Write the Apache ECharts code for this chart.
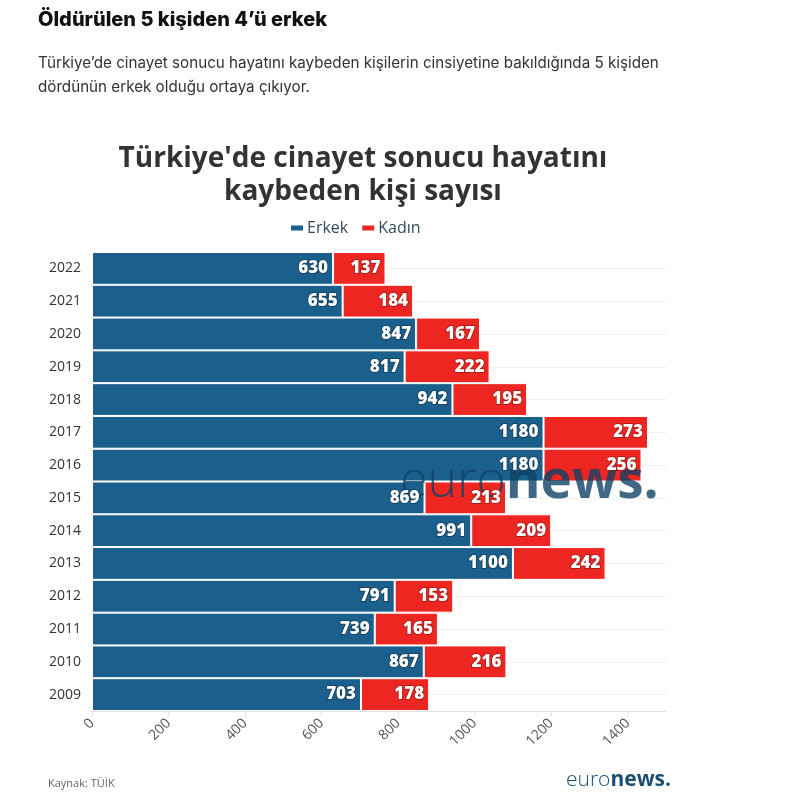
<!DOCTYPE html>
<html><head><meta charset="utf-8">
<script src="https://cdn.jsdelivr.net/npm/echarts@6/dist/echarts.min.js"></script>
<style>html,body{margin:0;padding:0;background:#fff}#c{width:810px;height:809px}</style>
</head><body><div id="c"></div>
<script>
const years = ['2009','2010','2011','2012','2013','2014','2015','2016','2017','2018','2019','2020','2021','2022'];
const erkek = [703, 867, 739, 791, 1100, 991, 869, 1180, 1180, 942, 817, 847, 655, 630];
const kadin = [178, 216, 165, 153, 242, 209, 213, 256, 273, 195, 222, 167, 184, 137];
const xTicks = {min: 0, max: 1500, interval: 200};

const chart = echarts.init(document.getElementById('c'), null, {renderer: 'canvas'});
const lbl = (border) => ({
  show: true, position: 'insideRight', distance: 5,
  color: '#fff', fontFamily: 'Open Sans', fontWeight: 800, fontSize: 17,
  textBorderColor: border, textBorderWidth: 1.5
});
const barSeries = (name, data, color, stack, z, labelBorder) => ({
  name, type: 'bar', stack, data, barWidth: '100%', barGap: '-100%', z,
  itemStyle: {color, borderColor: labelBorder ? 'rgba(0,0,0,0)' : '#fff', borderWidth: 1},
  label: labelBorder ? lbl(labelBorder) : {show: false},
  silent: !!labelBorder
});
chart.setOption({
  animation: false,
  textStyle: {fontFamily: 'Open Sans'},
  title: {
    text: "Türkiye'de cinayet sonucu hayatını\nkaybeden kişi sayısı",
    left: 358, top: 138, textAlign: 'center',
    textStyle: {fontFamily: 'Open Sans', fontSize: 28, fontWeight: 'bold', color: '#333', lineHeight: 33}
  },
  legend: {
    data: ['Erkek', 'Kadın'], left: 284, top: 215, itemWidth: 14, itemHeight: 7, itemGap: 12,
    icon: 'rect', textStyle: {fontFamily: 'Open Sans', fontSize: 16, color: '#34495e', padding: [0,0,0,-2]}
  },
  grid: {left: 92, right: 144, top: 252, bottom: 98, containLabel: false},
  xAxis: {
    type: 'value', min: xTicks.min, max: xTicks.max, interval: xTicks.interval,
    axisLine: {show: true, lineStyle: {color: '#e0e0e0'}},
    axisTick: {show: true, length: 6, lineStyle: {color: '#e6e6e6'}},
    splitLine: {show: false},
    axisLabel: {rotate: 45, color: '#555', fontSize: 14, showMaxLabel: false, margin: 10,
                formatter: v => String(v)}
  },
  yAxis: {
    type: 'category', data: years,
    axisLine: {show: false}, axisTick: {show: false},
    splitLine: {show: true, alignWithLabel: true, lineStyle: {color: '#f0f0f0'}},
    axisLabel: {color: '#333', fontSize: 14, margin: 11}
  },
  series: [
    barSeries('Erkek', erkek, '#1b5f8c', 't', 2, null),
    barSeries('Kadın', kadin, '#ee2622', 't', 2, null),
    barSeries('Erkek ', erkek, 'rgba(0,0,0,0)', 'l', 20, '#0f3a56'),
    barSeries('Kadın ', kadin, 'rgba(0,0,0,0)', 'l', 20, '#9a1714')
  ],
  graphic: [
    {type: 'text', left: 38, top: 10, style: {text: 'Öldürülen 5 kişiden 4’ü erkek', fontFamily: 'Inter', fontWeight: 800, fontSize: 20, fill: '#111'}},
    {type: 'text', left: 38, top: 51, style: {text: 'Türkiye’de cinayet sonucu hayatını kaybeden kişilerin cinsiyetine bakıldığında 5 kişiden\ndördünün erkek olduğu ortaya çıkıyor.', fontFamily: 'Inter', fontSize: 15.2, lineHeight: 24, fill: '#333'}},
    {type: 'text', left: 48, top: 778, style: {text: 'Kaynak: TÜİK', fontFamily: 'Open Sans', fontSize: 11, fill: '#666'}},
    {type: 'text', left: 566, top: 770, style: {
      text: '{a|euro}{b|news.}', rich: {
        a: {fontFamily: 'Open Sans', fontWeight: 300, fontSize: 21, fill: '#1b4f72'},
        b: {fontFamily: 'Open Sans', fontWeight: 'bold', fontSize: 21, fill: '#1b4f72'}
      }}},
    {type: 'text', left: 400, top: 456, z: 10, style: {
      text: '{a|euro}{b|news.}', opacity: 0.8, rich: {
        a: {fontFamily: 'Open Sans', fontWeight: 300, fontSize: 50, fill: '#0f4266'},
        b: {fontFamily: 'Open Sans', fontWeight: 'bold', fontSize: 53, fill: '#0f4266'}
      }}}
  ]
});
</script></body></html>
